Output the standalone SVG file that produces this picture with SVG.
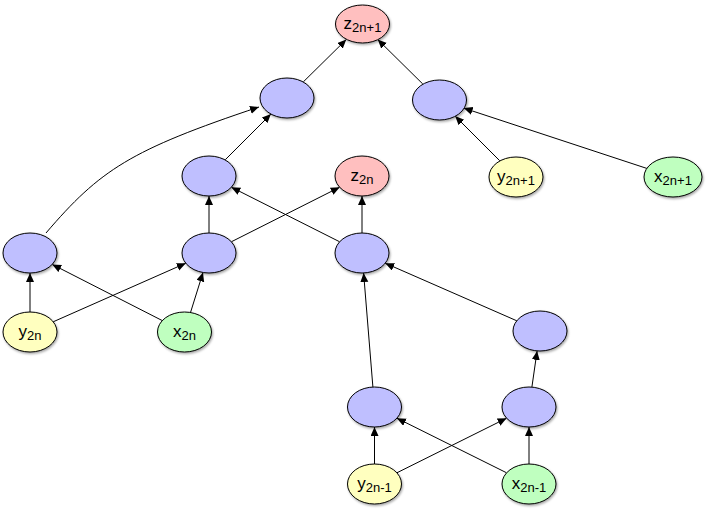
<svg xmlns="http://www.w3.org/2000/svg" width="707" height="510" viewBox="0 0 707 510">
<style>
.n ellipse{stroke:#000;stroke-width:1;filter:url(#sh)}
.h{fill:#BFBFFF}.z{fill:#FFBFBF}.y{fill:#FFFFBF}.x{fill:#BFFFBF}
text{font-family:"Liberation Sans",Arial,sans-serif;font-size:17px;fill:#000;text-anchor:middle}
.s{font-size:13px}
#edges path,#edges line{stroke:#000;stroke-width:1;fill:none;marker-end:url(#a)}
</style>
<defs>
<marker id="a" markerUnits="userSpaceOnUse" markerWidth="10" markerHeight="10" refX="9" refY="4" orient="auto">
<path d="M0,0 L9,4 L0,8 z" fill="#000"/>
</marker>
<filter id="sh" x="-20%" y="-20%" width="140%" height="150%">
<feDropShadow dx="1" dy="1.5" stdDeviation="1" flood-color="#000" flood-opacity="0.35"/>
</filter>
</defs>
<g id="edges">
<line x1="303.2" y1="82" x2="346.3" y2="39.5"/>
<line x1="422.8" y1="84" x2="377.7" y2="39.5"/>
<line x1="499.9" y1="160.9" x2="455.1" y2="116.1"/>
<line x1="648.3" y1="168.9" x2="463.7" y2="108.1"/>
<line x1="225.1" y1="159.9" x2="270.9" y2="114.1"/>
<path d="M46,233 C100,170 130,150 259,107"/>
<line x1="209" y1="233" x2="209" y2="196"/>
<line x1="339.7" y1="241.8" x2="231.3" y2="187.2"/>
<line x1="231.3" y1="241.8" x2="339.7" y2="187.2"/>
<line x1="362" y1="233" x2="362" y2="196"/>
<line x1="30" y1="312" x2="30" y2="273"/>
<line x1="162.3" y1="320.6" x2="52.2" y2="264.4"/>
<line x1="53.2" y1="321.8" x2="185.8" y2="263.2"/>
<line x1="190.5" y1="312.5" x2="203" y2="272.5"/>
<line x1="372.9" y1="387" x2="363.6" y2="273"/>
<line x1="516.8" y1="320.8" x2="385.2" y2="263.2"/>
<line x1="531.9" y1="387.1" x2="537.1" y2="350.9"/>
<line x1="374.5" y1="464" x2="374.5" y2="427"/>
<line x1="506.6" y1="472.8" x2="396.9" y2="418.2"/>
<line x1="396.9" y1="472.8" x2="506.6" y2="418.2"/>
<line x1="529" y1="464" x2="529" y2="427"/>
</g>
<g id="z2n1" class="n"><ellipse class="z" cx="362.5" cy="24" rx="27" ry="19"/><text x="362.5" y="29">z<tspan class="s" dy="3">2n+1</tspan></text></g>
<g id="hTL" class="n"><ellipse class="h" cx="287" cy="98" rx="27" ry="20"/></g>
<g id="hTR" class="n"><ellipse class="h" cx="439.5" cy="100" rx="27" ry="20"/></g>
<g id="y2n1" class="n"><ellipse class="y" cx="516" cy="177" rx="27" ry="20"/><text x="516" y="182">y<tspan class="s" dy="3">2n+1</tspan></text></g>
<g id="x2n1" class="n"><ellipse class="x" cx="673" cy="177" rx="29" ry="20"/><text x="673" y="182">x<tspan class="s" dy="3">2n+1</tspan></text></g>
<g id="hM1" class="n"><ellipse class="h" cx="209" cy="176" rx="27" ry="20"/></g>
<g id="z2n" class="n"><ellipse class="z" cx="362" cy="176" rx="27" ry="20"/><text x="362" y="181">z<tspan class="s" dy="3">2n</tspan></text></g>
<g id="hL" class="n"><ellipse class="h" cx="30" cy="253" rx="27" ry="20"/></g>
<g id="hM2" class="n"><ellipse class="h" cx="209" cy="253" rx="27" ry="20"/></g>
<g id="hR2" class="n"><ellipse class="h" cx="362" cy="253" rx="27" ry="20"/></g>
<g id="y2n" class="n"><ellipse class="y" cx="30" cy="332" rx="27" ry="20"/><text x="30" y="337">y<tspan class="s" dy="3">2n</tspan></text></g>
<g id="x2n" class="n"><ellipse class="x" cx="184.5" cy="332" rx="27" ry="20"/><text x="184.5" y="337">x<tspan class="s" dy="3">2n</tspan></text></g>
<g id="hRU" class="n"><ellipse class="h" cx="540" cy="331" rx="27" ry="20"/></g>
<g id="hLL" class="n"><ellipse class="h" cx="374.5" cy="407" rx="27" ry="20"/></g>
<g id="hLR" class="n"><ellipse class="h" cx="529" cy="407" rx="27" ry="20"/></g>
<g id="y2nm1" class="n"><ellipse class="y" cx="374.5" cy="484" rx="27" ry="20"/><text x="374.5" y="489">y<tspan class="s" dy="3">2n-1</tspan></text></g>
<g id="x2nm1" class="n"><ellipse class="x" cx="529" cy="484" rx="27" ry="20"/><text x="529" y="489">x<tspan class="s" dy="3">2n-1</tspan></text></g>
</svg>
